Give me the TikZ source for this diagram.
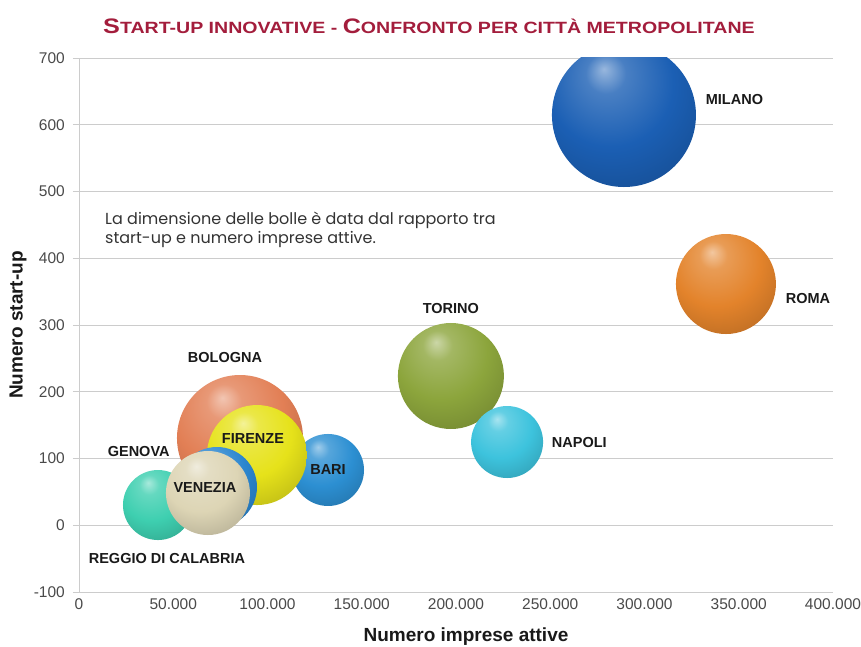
\documentclass[tikz,border=0pt]{standalone}
\usepackage{fontspec}
\setmainfont{Liberation Sans}
\newfontfamily\titlefont[FakeStretch=1.2]{Liberation Sans}
\newfontfamily\notefont{Poppins}
\usetikzlibrary{positioning}

\definecolor{titlered}{HTML}{A31D3C}
\definecolor{cMilano}{HTML}{1B5FB4}
\definecolor{cRoma}{HTML}{E3832B}
\definecolor{cTorino}{HTML}{8CA53C}
\definecolor{cNapoli}{HTML}{3DC3DD}
\definecolor{cBologna}{HTML}{E27F55}
\definecolor{cFirenze}{HTML}{E6E21A}
\definecolor{cBari}{HTML}{2C8FD2}
\definecolor{cGenova}{HTML}{2B86CF}
\definecolor{cVenezia}{HTML}{DDD5B5}
\definecolor{cReggio}{HTML}{3ECFB0}
\definecolor{gridgray}{HTML}{CCCCCC}
\definecolor{ticktext}{HTML}{4A4A4A}

\colorlet{bubcol}{blue}
\pgfdeclareradialshading[bubcol]{bubble}{\pgfpoint{-7bp}{16bp}}{%
  color(0bp)=(bubcol!45!white);
  color(7bp)=(bubcol!80!white);
  color(22bp)=(bubcol);
  color(40bp)=(bubcol!80!black);
  color(55bp)=(bubcol!60!black);
  color(70bp)=(bubcol!52!black)}

\tikzset{
  sphere/.style 2 args={circle, inner sep=0pt, minimum size=#2,
    /utils/exec={\colorlet{bubcol}{#1}}, shading=bubble},
  city/.style={inner sep=0pt, text=black!90,
    font=\bfseries\fontsize{14.5}{14.5}\selectfont},
  ticklabel/.style={inner sep=0pt, text=ticktext,
    font=\fontsize{15.5}{15.5}\selectfont},
  axistitle/.style={inner sep=0pt, text=black!90,
    font=\bfseries\fontsize{19}{19}\selectfont},
  gridline/.style={draw=gridgray, line width=0.9pt}
}

\begin{document}
\begin{tikzpicture}[x=1pt,y=1pt]

  \useasboundingbox (0,0) rectangle (861,646);

  \newcommand\BigCap[1]{{\fontsize{21}{21}\selectfont #1}}

  %% title
  \node[anchor=base west, inner sep=0pt, text=titlered,
    font=\titlefont\bfseries\fontsize{16.3}{16.3}\selectfont] (title) at (103,612.5)
    {\BigCap{S}TART-UP INNOVATIVE - \BigCap{C}ONFRONTO PER CITTÀ METROPOLITANE};

  \begin{scope}[shift={(79,120.75)}, x=1.885pt, y=0.6675pt]

    %% grid and axes
    \foreach \val in {-100,0,...,700} {
      \draw[gridline] (-3.2,\val) -- (400,\val);
      \node[ticklabel, anchor=east] at (-7.4,\val) {\val};
    }
    \draw[gridline] (0,-100) -- (0,700);
    \foreach \val/\lab in {0/0, 50/50.000, 100/100.000, 150/150.000,
      200/200.000, 250/250.000, 300/300.000, 350/350.000, 400/400.000}
      \node[ticklabel, anchor=base] at (\val,-126.2) {\lab};

    %% bubbles
    \begin{scope}
      \clip (0,-100) rectangle (400,700);
      \node[sphere={cMilano}{144pt}] (milano) at (289.1,614.6) {};
      \node[sphere={cRoma}{100pt}] (roma) at (343.2,361.4) {};
      \node[sphere={cTorino}{106pt}] (torino) at (197.3,223.6) {};
      \node[sphere={cNapoli}{72pt}] (napoli) at (227.1,124.7) {};
      \node[sphere={cBologna}{126pt}] (bologna) at (85.4,130.7) {};
      \node[sphere={cBari}{72pt}] (bari) at (132.1,82.8) {};
      \node[sphere={cFirenze}{100pt}] (firenze) at (94.4,105.2) {};
      \node[sphere={cReggio}{70pt}] (reggio) at (41.9,30.3) {};
      \node[sphere={cGenova}{80pt}] (genova) at (73.2,57.3) {};
      \node[sphere={cVenezia}{84pt}] (venezia) at (68.4,48.3) {};
    \end{scope}

    %% city names
    \node[city, right=9.5pt of milano, yshift=15pt] {MILANO};
    \node[city, right=9.5pt of roma, yshift=-14pt] {ROMA};
    \node[city, above=9pt of torino] {TORINO};
    \node[city, right=8.5pt of napoli] {NAPOLI};
    \node[city, above=12pt of bologna, xshift=-15pt] {BOLOGNA};
    \node[city] at ([shift={(-4pt,17pt)}]firenze.center) {FIRENZE};
    \node[city] at (bari) {BARI};
    \node[city, left=7pt of genova, yshift=35pt] {GENOVA};
    \node[city] at ([shift={(-3pt,6pt)}]venezia.center) {VENEZIA};
    \node[city, below=13pt of reggio, xshift=9pt] {REGGIO DI CALABRIA};

  \end{scope}

  %% note and axis titles
  \node[anchor=north west, inner sep=0pt, align=left, text=black!80,
    font=\notefont\fontsize{16}{19}\selectfont] (note) at (105,434)
    {La dimensione delle bolle è data dal rapporto tra\\
     start-up e numero imprese attive.};

  \node[axistitle, anchor=base] (xtitle) at (466,4.5) {Numero imprese attive};
  \node[axistitle, rotate=90] (ytitle) at (18,321) {Numero start-up};

\end{tikzpicture}
\end{document}
